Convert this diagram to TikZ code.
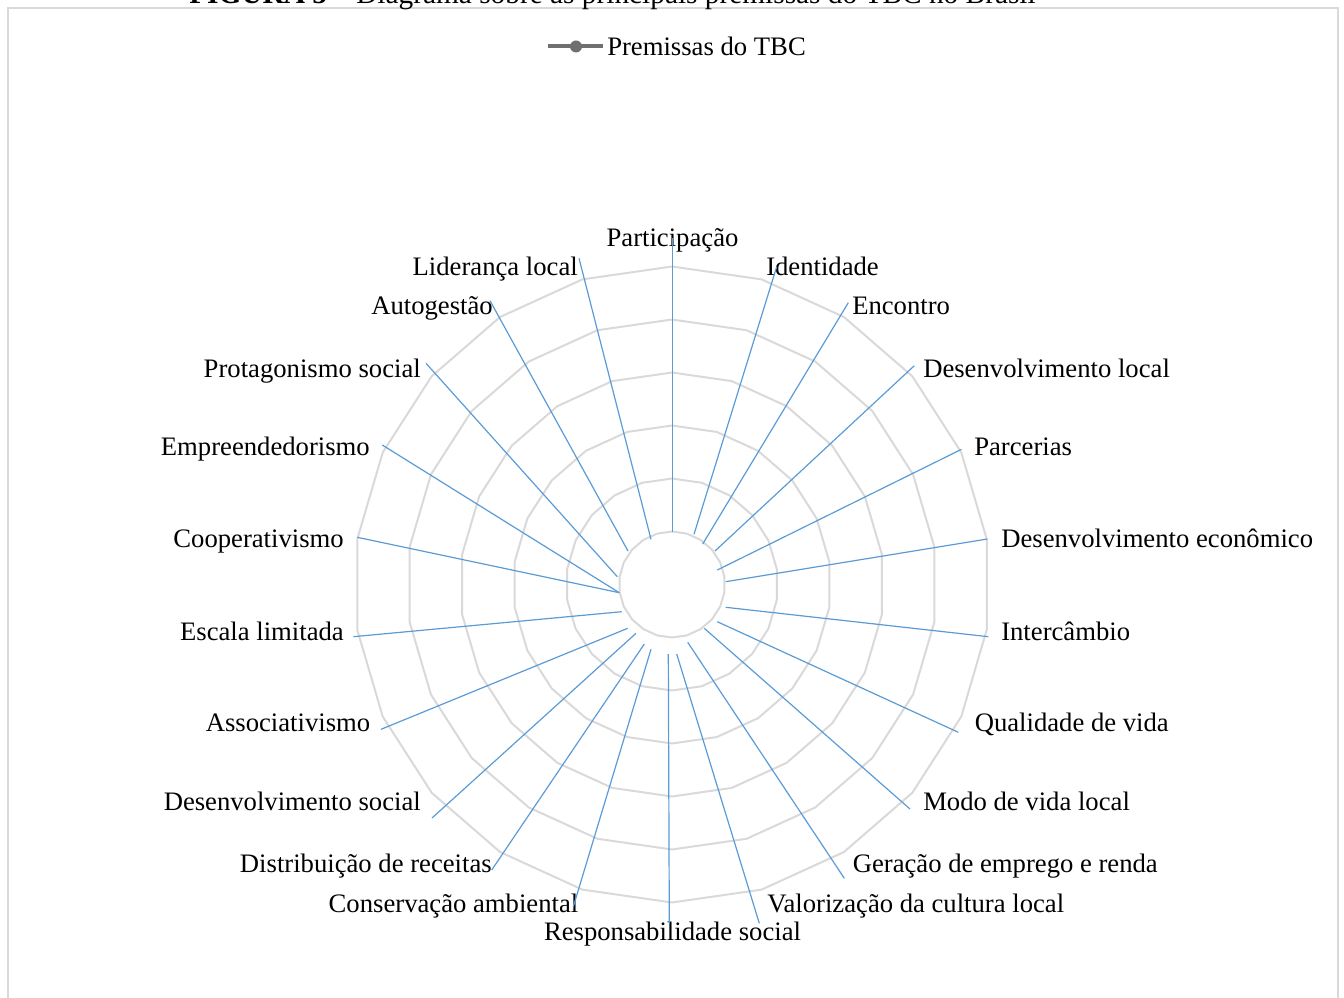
\documentclass[tikz,border=0pt]{standalone}
\usepackage{fontspec}
\setmainfont{Liberation Serif}
\definecolor{ringgray}{HTML}{D9D9D9}
\definecolor{leadblue}{HTML}{5B9BD5}
\definecolor{legendgray}{HTML}{6F6F6F}
\begin{document}
\begin{tikzpicture}[x=0.75pt,y=-0.75pt,
  lbl/.style={font=\fontsize{20}{24}\selectfont, inner sep=0pt, text=black},
  ringline/.style={draw=ringgray, line width=1.5pt, line join=round},
  leader/.style={draw=leadblue, line width=0.9pt},
  framebox/.style={draw=ringgray, line width=1.2pt},
  legendline/.style={draw=legendgray, line width=3pt},
  legendmark/.style={circle, fill=legendgray, inner sep=0pt, minimum size=9pt}]
\useasboundingbox (0,0) rectangle (1344,998);
\clip (0,0) rectangle (1344,998);
% frame
\draw[framebox] (8,1100) -- (8,8) -- (1338,8) -- (1338,1100);
% title (clipped at top, as in the reference)
\node[font=\fontsize{22}{26}\selectfont, inner sep=0pt, anchor=base] (title) at (612.5,3.5)
  {\textbf{FIGURA 5} – Diagrama sobre as principais premissas do TBC no Brasil};
% legend
\coordinate (legA) at (548,46.5);
\coordinate (legB) at (603,46.5);
\draw[legendline] (legA) -- (legB);
\node[legendmark] (legM) at (576,46.5) {};
\node[lbl, anchor=base west] (legT) at (607,55.5) {Premissas do TBC};
% rings
\begin{scope}[shift={(672,584.5)}]
\foreach \k in {1,...,6}{
  \draw[ringline] (-90:{53*\k}) \foreach \i in {1,...,21}{ -- ({-90+\i*360/22}:{53*\k}) } -- cycle;
}
\end{scope}
% labels
\node[lbl, anchor=base] (lPart) at (672.5,246.5) {Participação};
\node[lbl, anchor=base west] (lIden) at (766,275.5) {Identidade};
\node[lbl, anchor=base west] (lEnc) at (852,314.8) {Encontro};
\node[lbl, anchor=base west] (lDL) at (923,377) {Desenvolvimento local};
\node[lbl, anchor=base west] (lParc) at (974,455.5) {Parcerias};
\node[lbl, anchor=base west] (lDE) at (1001,547) {Desenvolvimento econômico};
\node[lbl, anchor=base west] (lInt) at (1001,640.8) {Intercâmbio};
\node[lbl, anchor=base west] (lQV) at (974.5,731.5) {Qualidade de vida};
\node[lbl, anchor=base west] (lMV) at (923,810.8) {Modo de vida local};
\node[lbl, anchor=base west] (lGer) at (852.5,872.2) {Geração de emprego e renda};
\node[lbl, anchor=base west] (lVal) at (767,912) {Valorização da cultura local};
\node[lbl, anchor=base] (lRes) at (672.5,940.8) {Responsabilidade social};
\node[lbl, anchor=base east] (lCons) at (578.5,912) {Conservação ambiental};
\node[lbl, anchor=base east] (lDist) at (492,872.2) {Distribuição de receitas};
\node[lbl, anchor=base east] (lDS) at (421,810.8) {Desenvolvimento social};
\node[lbl, anchor=base east] (lAss) at (370.5,731.5) {Associativismo};
\node[lbl, anchor=base east] (lEsc) at (344,640.8) {Escala limitada};
\node[lbl, anchor=base east] (lCoop) at (344,547) {Cooperativismo};
\node[lbl, anchor=base east] (lEmp) at (370,455.5) {Empreendedorismo};
\node[lbl, anchor=base east] (lProt) at (421,377) {Protagonismo social};
\node[lbl, anchor=base east] (lAuto) at (493,314.8) {Autogestão};
\node[lbl, anchor=base east] (lLid) at (578,275.5) {Liderança local};
% leader line end points
\coordinate (iPart) at (672.7,531.7);  \coordinate (oPart) at (672.7,238.3);
\coordinate (iIden) at (694,534.3);    \coordinate (oIden) at (776.7,266.7);
\coordinate (iEnc) at (702.7,544);     \coordinate (oEnc) at (848.3,302.7);
\coordinate (iDL) at (715,551);        \coordinate (oDL) at (914.3,365.7);
\coordinate (iParc) at (717.3,570);    \coordinate (oParc) at (961.5,449.3);
\coordinate (iDE) at (725.7,581.7);    \coordinate (oDE) at (987.3,539);
\coordinate (iInt) at (725.7,607.3);   \coordinate (oInt) at (988.3,636.7);
\coordinate (iQV) at (717.3,621.7);    \coordinate (oQV) at (958.3,732.3);
\coordinate (iMV) at (704.3,628.3);    \coordinate (oMV) at (910,809);
\coordinate (iGer) at (687.7,642.3);   \coordinate (oGer) at (844.3,878.3);
\coordinate (iVal) at (676.7,654);     \coordinate (oVal) at (759.3,923.3);
\coordinate (iRes) at (668.3,654);     \coordinate (oRes) at (669.3,923.3);
\coordinate (iCons) at (651,649.3);    \coordinate (oCons) at (573.3,906.7);
\coordinate (iDist) at (644.3,644);    \coordinate (oDist) at (491.7,870);
\coordinate (iDS) at (636,633.3);      \coordinate (oDS) at (432,818);
\coordinate (iAss) at (627.7,628.3);   \coordinate (oAss) at (381,729.3);
\coordinate (iEsc) at (621.7,611.7);   \coordinate (oEsc) at (353.3,636.7);
\coordinate (iCoop) at (619.3,592.7);  \coordinate (oCoop) at (357.3,537.3);
\coordinate (iEmp) at (619.3,592.7);   \coordinate (oEmp) at (382.3,445);
\coordinate (iProt) at (617.3,576.7);  \coordinate (oProt) at (426,363.3);
\coordinate (iAuto) at (628,551);      \coordinate (oAuto) at (490,300.7);
\coordinate (iLid) at (651,539.3);     \coordinate (oLid) at (579,258.3);
\foreach \n in {Part,Iden,Enc,DL,Parc,DE,Int,QV,MV,Ger,Val,Res,Cons,Dist,DS,Ass,Esc,Coop,Emp,Prot,Auto,Lid}{
  \draw[leader] (i\n) -- (o\n);
}
\end{tikzpicture}
\end{document}
